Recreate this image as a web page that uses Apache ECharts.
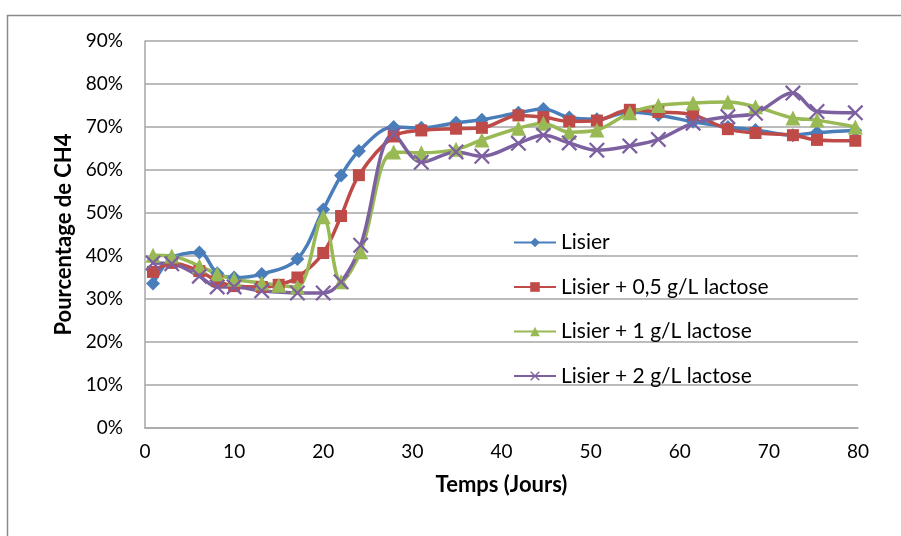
<!DOCTYPE html>
<html>
<head>
<meta charset="utf-8">
<script src="https://cdn.jsdelivr.net/npm/echarts@6/dist/echarts.min.js"></script>
<style>
  html, body { margin: 0; padding: 0; background: #fff; }
  #chart { width: 901px; height: 536px; }
</style>
</head>
<body>
<div id="chart"></div>
<script>
  // days (x) and CH4 percentages (y)
  const lisierDays = [0.9, 3, 6.1, 8.1, 10, 13.1, 17.1, 20, 22, 24, 27.9, 31, 34.9, 37.8, 41.9, 44.7, 47.6, 50.7, 54.4, 57.6, 61.5, 65.4, 68.5, 72.7, 75.4, 79.7];
  const lisierVals = [33.6, 39.5, 40.8, 36, 35, 35.8, 39.3, 50.8, 58.7, 64.4, 70, 69.8, 71, 71.7, 73.3, 74.2, 72.2, 71.8, 73.5, 72.8, 71.2, 70, 69.3, 68.1, 68.7, 69.2];

  const lac05Days = [0.9, 3, 6.1, 8.1, 10, 13.1, 15, 17.1, 20, 22, 24, 27.9, 31, 34.9, 37.8, 41.9, 44.7, 47.6, 50.7, 54.4, 57.6, 61.5, 65.4, 68.5, 72.7, 75.4, 79.7];
  const lac05Vals = [36.3, 38.4, 36.5, 34.2, 33, 32.8, 33.3, 35, 40.7, 49.3, 58.8, 67.8, 69.2, 69.6, 69.8, 72.7, 72.3, 71.3, 71.5, 74, 73.5, 72.8, 69.5, 68.6, 68.1, 67, 66.8];

  const lac1Days = [0.9, 3, 6.1, 8.1, 10, 13.1, 15, 17.1, 20, 22, 24.2, 27.9, 31, 34.9, 37.8, 41.9, 44.7, 47.6, 50.7, 54.4, 57.6, 61.5, 65.4, 68.5, 72.7, 75.4, 79.7];
  const lac1Vals = [40.2, 40, 37.7, 35.8, 34.6, 33.7, 33.2, 32.8, 49.1, 34, 41, 64.2, 64, 64.8, 67, 69.7, 70.9, 68.8, 69.3, 73.3, 75, 75.6, 75.8, 74.7, 72.1, 71.6, 70];

  const lac2Days = [0.9, 3, 6.1, 8.1, 10, 13.1, 17.1, 20, 22, 24.2, 27.9, 31, 34.9, 37.8, 41.9, 44.7, 47.6, 50.7, 54.4, 57.6, 61.5, 65.4, 68.5, 72.7, 75.4, 79.7];
  const lac2Vals = [38.4, 38.2, 35.3, 32.8, 32.8, 31.9, 31.4, 31.4, 34, 42.5, 68.3, 61.8, 64.2, 63.2, 66.2, 68.1, 66.3, 64.6, 65.6, 67.1, 70.9, 72.4, 73.2, 77.9, 73.6, 73.3];

  const seriesNames = ['Lisier', 'Lisier + 0,5 g/L lactose', 'Lisier + 1 g/L lactose', 'Lisier + 2 g/L lactose'];
  const yTicks = [0, 10, 20, 30, 40, 50, 60, 70, 80, 90];

  const colors = ['#4a7ebb', '#be4b48', '#98b954', '#7d60a0'];
  const crossPath = 'path://M0,1L1,0L5,4L9,0L10,1L6,5L10,9L9,10L5,6L1,10L0,9L4,5Z';
  const symbols = ['diamond', 'rect', 'triangle', crossPath];
  const symbolSizes = [14, 12, 15, 16];

  const pairs = (xs, ys) => xs.map((x, i) => [x, ys[i]]);
  const allData = [
    pairs(lisierDays, lisierVals),
    pairs(lac05Days, lac05Vals),
    pairs(lac1Days, lac1Vals),
    pairs(lac2Days, lac2Vals)
  ];

  const font = 'Lato, "Open Sans", sans-serif';
  const chart = echarts.init(document.getElementById('chart'));

  chart.setOption({
    backgroundColor: '#fff',
    animation: false,
    color: colors,
    graphic: [{
      type: 'rect',
      left: 5, top: 13,
      shape: { width: 1000, height: 1000 },
      style: { fill: 'none', stroke: '#8a8a8a', lineWidth: 1.5 },
      silent: true
    }],
    grid: { left: 145, right: 43, top: 41, bottom: 108 },
    legend: {
      orient: 'vertical',
      left: 508,
      top: 227,
      itemWidth: 42,
      itemHeight: 12,
      itemGap: 23.5,
      data: seriesNames,
      textStyle: { fontFamily: font, fontSize: 21, color: '#000' }
    },
    xAxis: {
      type: 'value',
      min: 0, max: 80, interval: 10,
      name: 'Temps (Jours)',
      nameLocation: 'middle',
      nameGap: 46,
      nameTextStyle: { fontFamily: font, fontSize: 22, fontWeight: 'bold', color: '#000' },
      axisLine: { lineStyle: { color: '#a6a6a6', width: 1.5 } },
      axisTick: { show: false },
      axisLabel: { fontFamily: font, fontSize: 19, color: '#000', margin: 14 },
      splitLine: { show: false }
    },
    yAxis: {
      type: 'value',
      min: 0, max: 90, interval: 10,
      name: 'Pourcentage de CH4',
      nameLocation: 'middle',
      nameGap: 70,
      nameTextStyle: { fontFamily: font, fontSize: 22, fontWeight: 'bold', color: '#000' },
      axisLine: { show: true, lineStyle: { color: '#a6a6a6', width: 1.5 } },
      axisTick: { show: false },
      axisLabel: {
        fontFamily: font, fontSize: 19, color: '#000', margin: 22,
        formatter: v => yTicks.includes(v) ? v + '%' : ''
      },
      splitLine: { lineStyle: { color: '#a6a6a6', width: 1.5 } }
    },
    series: allData.map((d, i) => ({
      name: seriesNames[i],
      type: 'line',
      data: d,
      smooth: 0.35,
      symbol: symbols[i],
      symbolSize: symbolSizes[i],
      showAllSymbol: true,
      lineStyle: { width: 3.5, color: colors[i] },
      itemStyle: { color: colors[i] }
    }))
  });
</script>
</body>
</html>
